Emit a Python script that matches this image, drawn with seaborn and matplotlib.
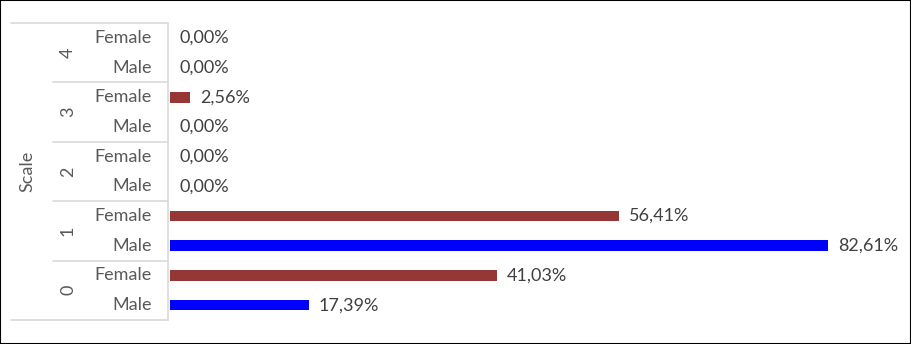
import matplotlib
matplotlib.use("Agg")
import matplotlib.pyplot as plt
import matplotlib.transforms as mtransforms
from matplotlib.patches import Rectangle
import seaborn as sns
import pandas as pd

# ---- data ----
scales = ["4", "3", "2", "1", "0"]
sexes = ["Female", "Male"]
female_values = [0.00, 2.56, 0.00, 56.41, 41.03]   # per scale, top to bottom
male_values = [0.00, 0.00, 0.00, 82.61, 17.39]
axis_title = "Scale"

rows, vals, sx, grp = [], [], [], []
for i, s in enumerate(scales):
    for sex, v in zip(sexes, [female_values[i], male_values[i]]):
        rows.append(f"{s}-{sex}")
        vals.append(v)
        sx.append(sex)
        grp.append(s)
df = pd.DataFrame({"row": rows, "value": vals, "sex": sx, "scale": grp})

sns.set_theme(style="white")
plt.rcParams["font.family"] = ["Lato", "DejaVu Sans"]

W, H = 911, 344
fig = plt.figure(figsize=(W / 100, H / 100), dpi=100)
left_px, right_px, top_px, bot_px = 170, 890, 23, 320
ax = fig.add_axes([left_px / W, 1 - bot_px / H, (right_px - left_px) / W, (bot_px - top_px) / H])

palette = {"Female": "#953735", "Male": "#0000FF"}
sns.barplot(data=df, x="value", y="row", hue="sex", palette=palette, order=rows,
            dodge=False, width=0.36, legend=False, ax=ax, orient="h", saturation=1,
            linewidth=0)

# scale so 82.61 ends ~ 828px
ax.set_xlim(0, (right_px - left_px) / ((828 - 170) / 82.61))
ax.set_ylim(len(rows) - 0.5, -0.5)

text_col = "#595959"
label_col = "#404040"
fs = 13

for cont in ax.containers:
    labels = [f"{b.get_width():.2f}%".replace(".", ",") for b in cont]
    ax.bar_label(cont, labels=labels, padding=7, color=label_col, fontsize=fs)

for sp in ax.spines.values():
    sp.set_visible(False)
ax.set_xticks([])
ax.set_yticks([])
ax.set_xlabel("")
ax.set_ylabel("")

# multi-level category axis drawn manually (x in pixels, y in data)
trans = mtransforms.blended_transform_factory(
    mtransforms.Affine2D().scale(1 / W, 1) + fig.transFigure, ax.transData)
line_col = "#D9D9D9"

ax.plot([168, 168], [-0.5, len(rows) - 0.5], transform=trans, color=line_col, lw=1.2, clip_on=False)
ax.plot([11, 168], [-0.5, -0.5], transform=trans, color=line_col, lw=1.2, clip_on=False)
ax.plot([11, 168], [len(rows) - 0.5, len(rows) - 0.5], transform=trans, color=line_col, lw=1.2, clip_on=False)
for g in range(1, len(scales)):
    yy = g * 2 - 0.5
    ax.plot([53, 168], [yy, yy], transform=trans, color=line_col, lw=1.2, clip_on=False)

for i, r in enumerate(rows):
    ax.text(152, i, df["sex"][i], transform=trans, ha="right", va="center",
            color=text_col, fontsize=fs)
for g, s in enumerate(scales):
    ax.text(68, g * 2 + 0.5, s, transform=trans, ha="center", va="center",
            rotation=90, color=text_col, fontsize=fs)
ax.text(27, (len(rows) - 1) / 2, axis_title, transform=trans, ha="center", va="center",
        rotation=90, color=text_col, fontsize=fs)

fig.patches.append(Rectangle((0, 0), 1, 1, transform=fig.transFigure, fill=False,
                             edgecolor="black", linewidth=1.5, zorder=10))

fig.savefig("out.png", dpi=100, facecolor="white")
